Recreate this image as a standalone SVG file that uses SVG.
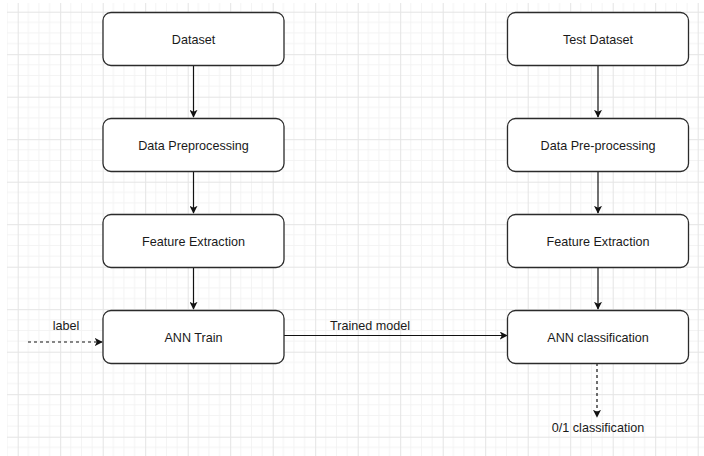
<svg xmlns="http://www.w3.org/2000/svg" width="704" height="456" viewBox="0 0 704 456">
  <style>
    .node rect { fill: #ffffff; stroke: #2b2b2b; stroke-width: 1.3; }
    .node text, .lbl { font-family: "Liberation Sans", Arial, sans-serif; font-size: 12.6px; fill: #1a1a1a; text-anchor: middle; }
    .edge { stroke: #111111; stroke-width: 1.2; fill: none; }
    .dash { stroke-dasharray: 3 3; }
  </style>
  <defs>
    <pattern id="grid" patternUnits="userSpaceOnUse" x="17.7" y="11.7" width="42.5" height="42.5">
      <path d="M10.625 0V42.5M21.25 0V42.5M31.875 0V42.5M0 10.625H42.5M0 21.25H42.5M0 31.875H42.5" stroke="#f3f3f3" stroke-width="1"/>
      <path d="M0.5 0V42.5M0 0.5H42.5" stroke="#e4e4e4" stroke-width="1"/>
    </pattern>
    <marker id="arrow" viewBox="0 0 10 10" refX="9" refY="5" markerWidth="8" markerHeight="8" markerUnits="userSpaceOnUse" orient="auto">
      <path d="M0 0L10 5L0 10L2.5 5Z" fill="#111111"/>
    </marker>
  </defs>

  <rect width="704" height="456" fill="#ffffff"/>
  <rect x="7" y="3" width="697" height="453" fill="url(#grid)"/>

  <g id="connectors">
    <line class="edge" x1="193.5" y1="65" x2="193.5" y2="117" marker-end="url(#arrow)"/>
    <line class="edge" x1="193.5" y1="171" x2="193.5" y2="213" marker-end="url(#arrow)"/>
    <line class="edge" x1="193.5" y1="267" x2="193.5" y2="309" marker-end="url(#arrow)"/>
    <line class="edge" x1="598" y1="65" x2="598" y2="117" marker-end="url(#arrow)"/>
    <line class="edge" x1="598" y1="171" x2="598" y2="213" marker-end="url(#arrow)"/>
    <line class="edge" x1="598" y1="267" x2="598" y2="309" marker-end="url(#arrow)"/>
    <line class="edge dash" x1="28" y1="342" x2="102" y2="342" marker-end="url(#arrow)"/>
    <text class="lbl" x="66" y="330">label</text>
    <line class="edge" x1="284" y1="335.5" x2="507" y2="335.5" marker-end="url(#arrow)"/>
    <text class="lbl" x="370" y="330">Trained model</text>
    <line class="edge dash" x1="597" y1="363" x2="597" y2="417" marker-end="url(#arrow)"/>
    <text class="lbl" x="598" y="432">0/1 classification</text>
  </g>

  <g id="dataset" class="node">
    <rect x="103" y="12.5" width="181" height="53" rx="8"/>
    <text x="193.5" y="43.5">Dataset</text>
  </g>
  <g id="data-preprocessing" class="node">
    <rect x="103" y="118.5" width="181" height="53" rx="8"/>
    <text x="193.5" y="149.5">Data Preprocessing</text>
  </g>
  <g id="feature-extraction" class="node">
    <rect x="103" y="214.5" width="181" height="53" rx="8"/>
    <text x="193.5" y="245.5">Feature Extraction</text>
  </g>
  <g id="ann-train" class="node">
    <rect x="103" y="310.5" width="181" height="53" rx="8"/>
    <text x="193.5" y="341.5">ANN Train</text>
  </g>

  <g id="test-dataset" class="node">
    <rect x="507.5" y="12.5" width="181" height="53" rx="8"/>
    <text x="598" y="43.5">Test Dataset</text>
  </g>
  <g id="test-data-preprocessing" class="node">
    <rect x="507.5" y="118.5" width="181" height="53" rx="8"/>
    <text x="598" y="149.5">Data Pre-processing</text>
  </g>
  <g id="test-feature-extraction" class="node">
    <rect x="507.5" y="214.5" width="181" height="53" rx="8"/>
    <text x="598" y="245.5">Feature Extraction</text>
  </g>
  <g id="ann-classification" class="node">
    <rect x="507.5" y="310.5" width="181" height="53" rx="8"/>
    <text x="598" y="341.5">ANN classification</text>
  </g>
</svg>
